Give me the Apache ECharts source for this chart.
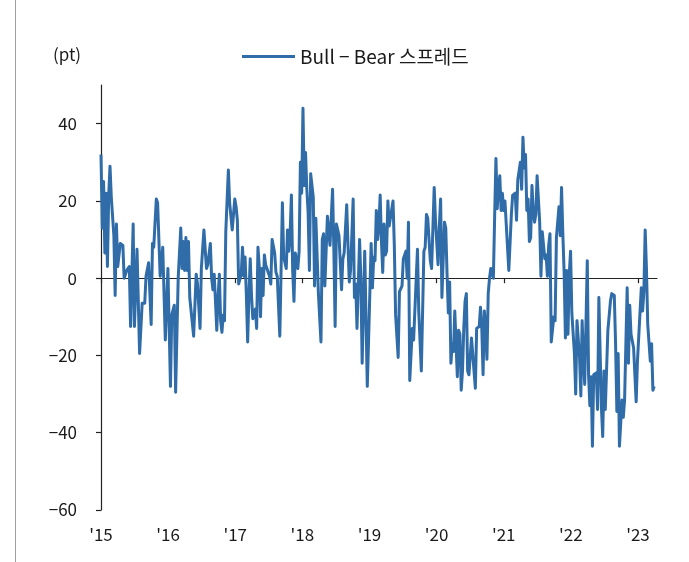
<!DOCTYPE html>
<html>
<head>
<meta charset="utf-8">
<script src="https://cdn.jsdelivr.net/npm/echarts@6/dist/echarts.min.js"></script>
<style>
  html, body { margin: 0; padding: 0; background: #ffffff; }
  #chart { width: 689px; height: 562px; }
</style>
</head>
<body>
<div id="chart"></div>
<script>
// Weekly AAII sentiment survey: week number counted from the first survey of 2015
const weekNo = [
  0,1,2,3,4,5,6,7,8,10,11,12,13,15,17,18,20,22,23,25,26,28,30,32,34,35,37,39,40,41,
  43,44,46,48,50,52,54,55,57,58,60,62,63,64,65,66,67,68,69,72,74,75,77,78,80,82,83,85,86,87,
  88,89,90,91,92,93,94,95,96,97,99,100,102,104,105,106,107,109,110,111,112,113,114,115,116,117,118,120,121,122,
  123,124,125,126,127,128,129,131,132,133,135,136,137,139,141,142,144,145,146,147,148,149,150,151,153,154,155,156,157,158,
  159,160,161,162,163,165,166,167,169,171,172,173,174,176,178,180,181,182,183,185,187,188,189,191,192,193,194,196,197,198,
  199,201,202,203,205,207,208,210,211,212,213,214,215,216,217,218,219,220,221,222,223,224,225,227,228,229,231,232,234,235,
  237,238,239,240,242,243,246,247,249,251,252,253,254,256,257,259,260,262,263,264,265,267,268,269,270,271,272,273,274,275,
  276,277,278,279,280,281,282,283,284,285,286,288,289,291,292,294,295,296,297,298,299,300,301,302,303,305,306,307,308,309,
  310,311,312,313,314,315,316,317,318,319,320,322,323,324,325,326,327,328,329,330,331,332,333,334,335,336,337,338,339,341,
  342,343,345,346,347,348,349,350,352,353,354,356,357,358,359,360,361,362,363,364,365,366,368,369,370,372,373,374,375,376,
  378,379,380,381,382,383,385,386,387,389,390,391,392,394,395,396,397,399,400,401,402,403,405,406,407,409,410,411,412,414,
  415,416,417,418,420,421,422,423,424,425,427,428,429,430
];

// Bull minus Bear spread (pt)
const spread = [
  32,13,25,6.5,22,3,21.5,29,21,11,-4.5,14,3,9,8.5,0,2,3,-12.5,14,-12.5,7.5,-19.5,-6.5,-6.5,0.5,4,-12,9,8,
  20.5,19.5,0.5,8,-16,2.5,-28,-9.5,-7,-29.5,0,13,2.5,9.5,2,10.5,2,9.5,-5,-15,1,-1.5,-13,2.5,12.5,2.5,3.5,9,0,-3,
  1,-6,-13.5,-5,1,-11,-14,-9.5,-11,12,28,19.5,12.5,20.5,18.5,15,-1.5,1,8,0.5,5.5,-4.5,-16.5,-4.5,5,-4.5,-10.5,-8,-13,8,
  3,-10,2.5,-4.5,6,3.5,4,0.5,-1.5,10,6.5,1.5,0.5,-15,19.5,5.5,2.5,12.5,7,11.5,21.5,2,-6,6.5,2.5,7,30,22,44,24,
  32.5,23,17,2,27,21,-2,15.5,-4,-16.5,10,11.5,-2,16,8.5,23,7.5,-12.5,14,11,-3,5,6.5,19,8.5,-1,2,20.5,-5,-1.5,
  -13,10,0,-22,7,-28,-16,9,-2.5,5.5,4.5,17.5,10,13.5,21.5,9.5,1.5,14,6,7,20,13.5,13,20,8.5,-9.5,-20.5,-3.5,-2,5,
  7,0,14.5,-26.5,-13,-16,7.5,-8.5,-24,7,8,16.5,15.5,4.5,2.5,23.5,15,3.5,13.5,20.5,-5,14.5,13,1,-9,-1,-22,-17,-19,-8.5,
  -8,-25.5,-13.5,-14.5,-29,-24,-13,-6,-4,-24,-25,-15.5,-15.5,-28.5,-13,-12.5,-7.5,-13,-25,-8.5,-13,-21,-4,0,2.5,0,16,31,18,23.5,
  26.5,17.5,22,17.5,20,14,13.5,2,1.5,16.5,21.5,22,15,25.5,25,30,23,36.5,28.5,32,17.5,20.5,9.5,10.5,24,17.5,14.5,16.5,26.5,14.5,
  0.5,12,5,6,0.5,8.5,11.5,-16.5,-10,-11,10.5,18.5,11,23.5,11.5,1.5,-15.5,2,-14.5,1,7,-9,-19.5,-30,-11,-20.5,-30.5,-11,-20.5,-27.5,
  4.5,-25,-33,-25.5,-43.5,-25,-24.5,-34,-5,-33.5,-41,-24,-34,-13.5,-13,-6,-4,-4.5,-17,-34.5,-19.5,-43.5,-31.5,-36,-31.5,-2.5,-22,-7,-14.5,-18,
  -25,-32,-21.5,-22,-2.5,-8.5,-3.5,12.5,2.5,-12,-21.5,-17,-29,-28
];

// Axis ticks
const yearTicks = [2015, 2016, 2017, 2018, 2019, 2020, 2021, 2022, 2023];
const valueTicks = [-60, -40, -20, 0, 20, 40];

const seriesName = 'Bull − Bear 스프레드';
const unitLabel = '(pt)';

// position of each survey week on a continuous year scale
const weekToYear = w => 2015 + (w * 7) / 365.25;

const points = weekNo.map((w, i) => [weekToYear(w), spread[i]]);
const xMin = 2015;
const xMax = 2023.283;

const ink = '#1a1a1a';
const axisInk = '#222222';
const lineBlue = '#2f6ca8';
const fontFamily = '"Noto Sans CJK KR", "Noto Sans", sans-serif';

const yearLabel = v => (Math.abs(v - Math.round(v)) < 1e-6 ? "'" + String(Math.round(v)).slice(2) : '');

const chart = echarts.init(document.getElementById('chart'), null, { renderer: 'canvas' });

chart.setOption({
  animation: false,
  backgroundColor: '#ffffff',
  textStyle: { fontFamily: fontFamily, color: ink },
  grid: { left: 101, right: 32, top: 85, bottom: 52, containLabel: false },
  legend: {
    show: true,
    left: 242,
    top: 47,
    padding: 0,
    icon: 'rect',
    itemWidth: 53,
    itemHeight: 3,
    itemGap: 10,
    textStyle: { fontSize: 19, color: ink, fontFamily: fontFamily },
    data: [seriesName]
  },
  graphic: [
    {
      // thin frame rule on the left edge of the panel
      type: 'rect',
      shape: { x: 15, y: 0, width: 1, height: 562 },
      style: { fill: '#a0a0a0' },
      silent: true
    },
    {
      type: 'text',
      left: 53,
      top: 46,
      style: { text: unitLabel, fontSize: 17, fill: ink, fontFamily: fontFamily },
      silent: true
    }
  ],
  xAxis: [
    {
      // year labels along the bottom of the plot
      type: 'value',
      gridIndex: 0,
      position: 'bottom',
      min: xMin,
      max: xMax,
      interval: 1,
      axisLine: { show: false, onZero: false },
      axisTick: { show: false },
      splitLine: { show: false },
      axisLabel: {
        show: true,
        customValues: yearTicks,
        margin: 16,
        fontSize: 17,
        color: ink,
        fontFamily: fontFamily,
        formatter: yearLabel
      }
    },
    {
      // zero baseline with yearly tick marks
      type: 'value',
      gridIndex: 0,
      position: 'top',
      min: xMin,
      max: xMax,
      interval: 1,
      axisLine: { show: true, onZero: true, lineStyle: { color: axisInk, width: 1.2 } },
      axisTick: { show: true, inside: true, length: 5, customValues: yearTicks, lineStyle: { color: axisInk, width: 1.2 } },
      axisLabel: { show: false },
      splitLine: { show: false }
    }
  ],
  yAxis: {
    type: 'value',
    min: -60,
    max: 50,
    interval: 20,
    axisLine: { show: true, onZero: false, lineStyle: { color: axisInk, width: 1.2 } },
    axisTick: { show: true, length: 5, customValues: valueTicks, lineStyle: { color: axisInk, width: 1.2 } },
    splitLine: { show: false },
    axisLabel: {
      customValues: valueTicks,
      margin: 24,
      fontSize: 17,
      color: ink,
      fontFamily: fontFamily,
      formatter: v => String(v).replace('-', '−')
    }
  },
  series: [
    {
      name: seriesName,
      type: 'line',
      xAxisIndex: 0,
      data: points,
      showSymbol: false,
      symbol: 'none',
      lineStyle: { color: lineBlue, width: 3, join: 'round' },
      itemStyle: { color: lineBlue },
      z: 3
    }
  ]
});
</script>
</body>
</html>
